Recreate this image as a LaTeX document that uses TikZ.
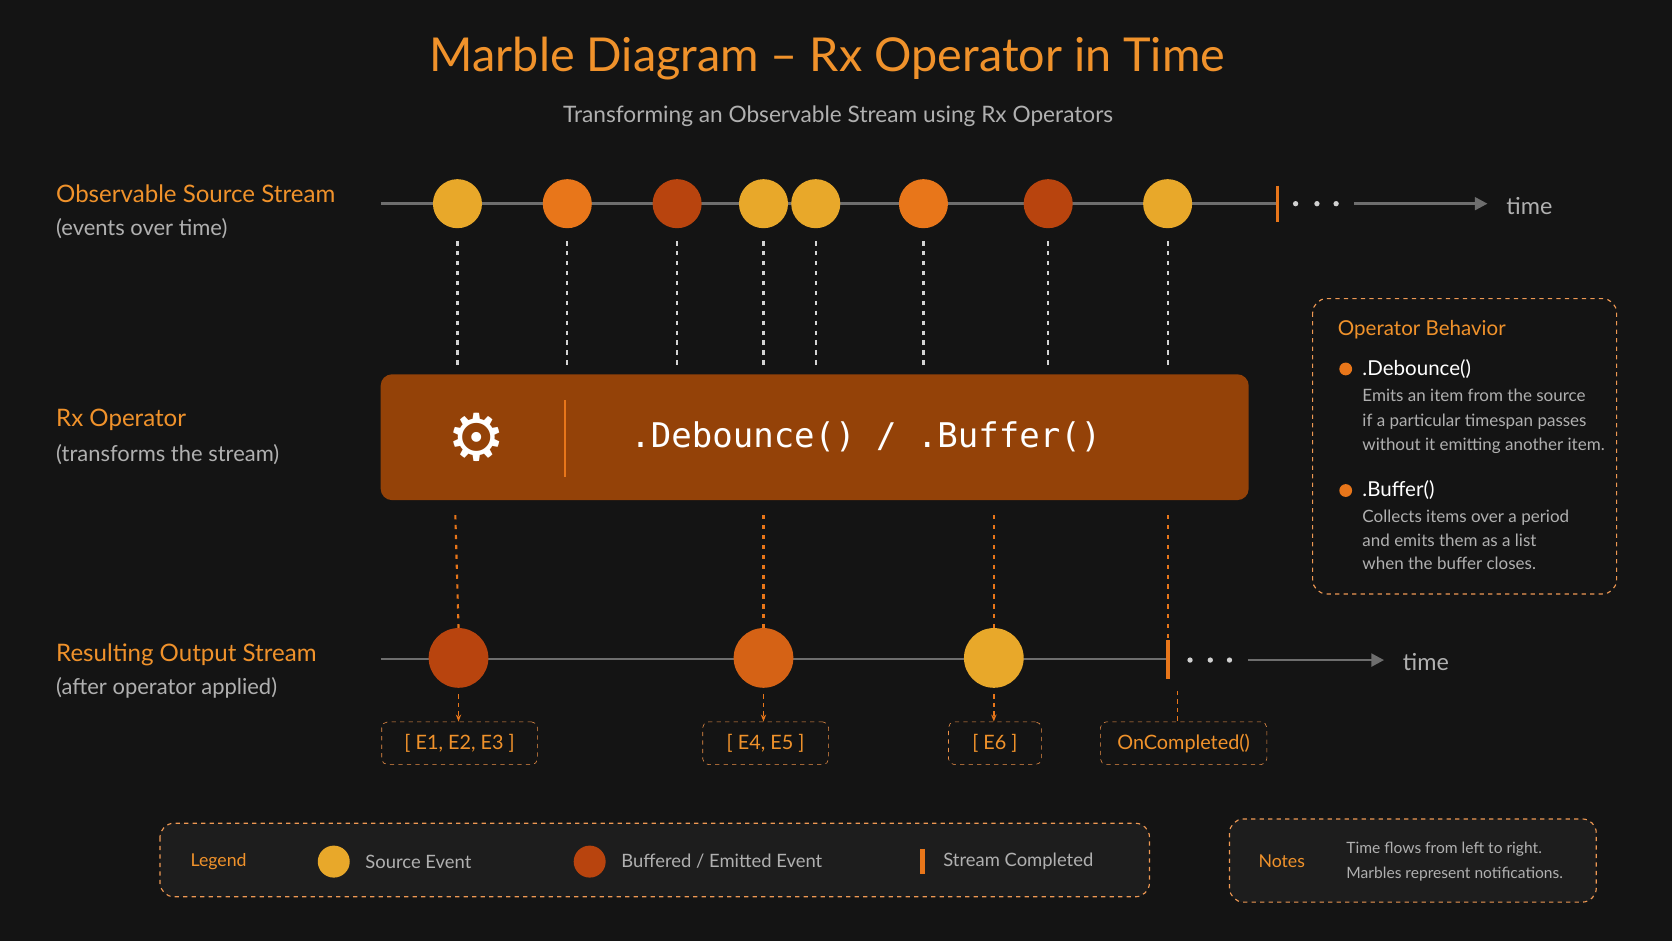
\documentclass[tikz,border=0pt]{standalone}
\usepackage{fontspec}
\setmainfont{Lato}
\setmonofont{DejaVu Sans Mono}
\newfontfamily\symfont{DejaVu Sans}
\usetikzlibrary{arrows.meta,calc,positioning}
\definecolor{bgdark}{RGB}{20,20,20}
\definecolor{rxyellow}{RGB}{232,168,42}
\definecolor{rxorange}{RGB}{232,118,26}
\definecolor{rxrust}{RGB}{184,68,14}
\definecolor{rxbox}{RGB}{148,66,8}
\definecolor{rxtext}{RGB}{240,146,43}
\definecolor{rxgray}{RGB}{176,176,176}
\definecolor{rxline}{RGB}{110,110,110}

\begin{document}
\begin{tikzpicture}[x=0.75bp, y=-0.75bp,
  marble/.style={circle, minimum size=46*0.75bp, inner sep=0pt},
  bigmarble/.style={circle, minimum size=56*0.75bp, inner sep=0pt},
  head/.style={text=rxtext, font=\fontsize{17}{20}\selectfont, anchor=west},
  sub/.style={text=rxgray, font=\fontsize{15.5}{18}\selectfont, anchor=west},
  stream/.style={rxline, line width=2pt},
  arr/.style={rxline, line width=2pt, -{Triangle[length=9pt,width=9pt]}},
  drop/.style={rxgray!55, line width=1.5pt, dash pattern=on 3pt off 4pt},
  odrop/.style={rxorange, line width=1.5pt, dash pattern=on 3pt off 4pt},
  tag/.style={draw=rxorange!80, dashed, rounded corners=4pt, text=rxtext,
              font=\fontsize{14}{16}\selectfont, minimum height=40*0.75bp, inner xsep=8pt},
  frame/.style={draw=rxorange!75, dashed, rounded corners=10pt, line width=0.8pt},
  dot/.style={circle, fill=rxgray!60, minimum size=5*0.75bp, inner sep=0pt}
]
  \fill[bgdark] (0,0) rectangle (1568,882);

  % Title
  \node[text=rxtext, font=\fontsize{33}{36}\selectfont] (title) at (776,55) {Marble Diagram – Rx Operator in Time};
  \node[text=rxgray, font=\fontsize{16}{18}\selectfont] (subtitle) at (786,109) {Transforming an Observable Stream using Rx Operators};

  % Row labels
  \node[head] (srclbl) at (48,182) {Observable Source Stream};
  \node[sub] (srcsub) at (48,214) {(events over time)};
  \node[head] (oplbl) at (48,394) {Rx Operator};
  \node[sub] (opsub) at (48,426) {(transforms the stream)};
  \node[head] (outlbl) at (48,614) {Resulting Output Stream};
  \node[sub] (outsub) at (48,645) {(after operator applied)};

  % Source stream
  \coordinate (s0) at (357,191);
  \coordinate (send) at (1198,191);
  \draw[stream] (s0) -- (send);
  \draw[rxorange, line width=2pt] ($(send)+(0,-17)$) -- ($(send)+(0,17)$);
  \foreach \x [count=\i] in {1215,1235,1253} \node[dot] (sd\i) at (\x,191) {};
  \coordinate (sa) at (1270,191);
  \coordinate (sb) at (1395,191);
  \draw[arr] (sa) -- (sb);
  \node[text=rxgray, font=\fontsize{16.5}{18}\selectfont, anchor=west] (stime) at (1408,193) {time};

  \foreach \x/\c [count=\i] in {429/rxyellow,532/rxorange,635/rxrust,716/rxyellow,765/rxyellow,866/rxorange,983/rxrust,1095/rxyellow}{
    \node[marble, fill=\c] (e\i) at (\x,191) {};
    \coordinate (d\i) at (\x,345);
    \draw[drop] ($(e\i.south)+(0,12)$) -- (d\i);
  }

  % Operator
  \node[fill=rxbox, rounded corners=8pt, minimum width=814*0.75bp, minimum height=118*0.75bp] (op) at (764,410) {};
  \node[text=white, font=\symfont\fontsize{46}{48}\selectfont] (gear) at (447,410) {⚙};
  \draw[rxorange, line width=1.2pt] (530,375) -- (530,447);
  \node[text=white, font=\ttfamily\fontsize{24}{28}\selectfont] (opname) at (812,410) {.Debounce() / .Buffer()};

  % Output stream
  \coordinate (o0) at (357,618);
  \coordinate (oend) at (1095,618);
  \draw[stream] (o0) -- (oend);
  \draw[rxorange, line width=3pt] (1095,600) -- (1095,637);
  \foreach \x [count=\i] in {1116,1135,1153} \node[dot] (od\i) at (\x,619) {};
  \coordinate (oa) at (1170,619);
  \coordinate (ob) at (1298,619);
  \draw[arr] (oa) -- (ob);
  \node[text=rxgray, font=\fontsize{16.5}{18}\selectfont, anchor=west] (otime) at (1311,621) {time};

  \node[bigmarble, fill=rxrust] (r1) at (430,617) {};
  \node[bigmarble, fill=rxorange!60!rxrust] (r2) at (716,617) {};
  \node[bigmarble, fill=rxyellow] (r3) at (932,617) {};

  \foreach \x/\t in {427/r1,716/r2,932/r3} \draw[odrop] (\x,483) -- (\t.north);
  \coordinate (cend) at (1095,600);
  \draw[odrop] (1095,483) -- (cend);

  % Emitted values
  \node[tag, minimum width=146*0.75bp] (b1) at (431,697) {[ E1, E2, E3 ]};
  \node[tag, minimum width=118*0.75bp] (b2) at (718,697) {[ E4, E5 ]};
  \node[tag, minimum width=87*0.75bp] (b3) at (933,697) {[ E6 ]};
  \node[tag, minimum width=156*0.75bp] (b4) at (1110,697) {OnCompleted()};
  \foreach \m/\b in {r1/b1,r2/b2,r3/b3}
    \draw[rxorange, line width=1pt, dash pattern=on 3pt off 3pt, -{Stealth[length=5pt]}] ($(\m.south)+(0,6)$) -- (\b.north -| \m.south);
  \coordinate (c0) at (1104,648);
  \draw[rxorange, line width=1pt, dash pattern=on 3pt off 3pt] (c0) -- (b4.north -| c0);

  % Operator behaviour
  \draw[frame] (1231,280) rectangle (1516,557);
  \node[text=rxtext, font=\fontsize{14.5}{16}\selectfont, anchor=west] (behav) at (1250,309) {Operator Behavior};
  \fill[rxorange] (1262,346) circle (6);
  \node[text=white, font=\fontsize{14.5}{16}\selectfont, anchor=west] (deb) at (1273,346) {.Debounce()};
  \node[text=rxgray, font=\fontsize{12}{17.5}\selectfont, anchor=north west, align=left] (debtxt) at (1273,360)
    {Emits an item from the source\\if a particular timespan passes\\without it emitting another item.};
  \fill[rxorange] (1262,460) circle (6);
  \node[text=white, font=\fontsize{14.5}{16}\selectfont, anchor=west] (buf) at (1273,460) {.Buffer()};
  \node[text=rxgray, font=\fontsize{12}{16.5}\selectfont, anchor=north west, align=left] (buftxt) at (1273,474)
    {Collects items over a period\\and emits them as a list\\when the buffer closes.};

  % Legend
  \draw[frame, fill=white!4!bgdark] (150,772) rectangle (1078,841);
  \node[text=rxtext, font=\fontsize{12.5}{15}\selectfont] (leg) at (205,808) {Legend};
  \node[marble, minimum size=30*0.75bp, fill=rxyellow] (lg1) at (313,808) {};
  \node[text=rxgray, font=\fontsize{13}{15}\selectfont, anchor=west] (lgt1) at (338,808) {Source Event};
  \node[marble, minimum size=30*0.75bp, fill=rxrust] (lg2) at (553,808) {};
  \node[text=rxgray, font=\fontsize{13}{15}\selectfont, anchor=west] (lgt2) at (578,808) {Buffered / Emitted Event};
  \draw[rxorange, line width=3pt] (865,796) -- (865,820);
  \node[text=rxgray, font=\fontsize{13}{15}\selectfont, anchor=west] (lgt3) at (880,808) {Stream Completed};

  % Notes
  \draw[frame, fill=white!4!bgdark] (1153,768) rectangle (1497,846);
  \node[text=rxtext, font=\fontsize{12.5}{15}\selectfont] (notes) at (1202,808) {Notes};
  \node[text=rxgray, font=\fontsize{11}{17}\selectfont, anchor=west, align=left] (ntxt) at (1258,808)
    {Time flows from left to right.\\Marbles represent notifications.};
\end{tikzpicture}
\end{document}
